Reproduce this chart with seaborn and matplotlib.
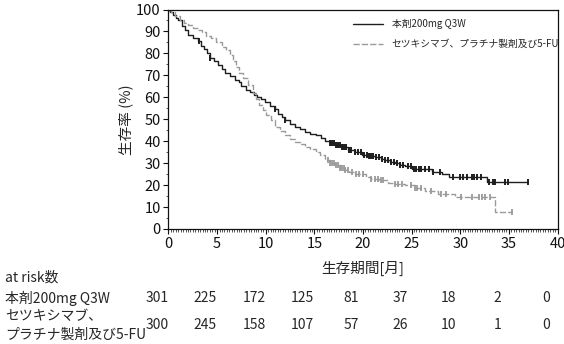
import numpy as np
import pandas as pd
import matplotlib
matplotlib.use("Agg")
import matplotlib.pyplot as plt
from matplotlib.ticker import MultipleLocator
from matplotlib.transforms import blended_transform_factory
import seaborn as sns

# ---------------- data ----------------
arm_a = "本剤200mg Q3W"
arm_b = "セツキシマブ、プラチナ製剤及び5-FU"

a_time = [0, 0.2, 0.5, 0.8, 1.0, 1.4, 1.7, 2.0, 2.5, 3.0, 3.3, 3.6, 4.0, 4.3, 4.7, 5.1, 5.5, 5.8,
          6.3, 6.8, 7.2, 7.5, 8.0, 8.4, 8.8, 9.1, 9.5, 9.9, 10.4, 10.9, 11.3, 11.7, 12.0, 12.5,
          13.0, 13.5, 14.0, 14.6, 15.2, 15.7, 16.1, 16.6, 17.1, 17.8, 18.5, 19.2, 19.9, 20.6,
          21.2, 21.8, 22.3, 22.8, 23.3, 23.8, 24.3, 25.0, 27.1, 28.1, 28.8, 32.7]
a_surv = [100, 99, 97.5, 96, 95, 92.5, 90.5, 88.5, 87, 85.5, 83.5, 82, 80, 78, 76.5, 74.7, 73, 71,
          69.5, 68, 67, 65, 63.5, 62.5, 61, 60, 59, 58, 56, 54.5, 52.5, 51, 49.7, 48,
          46.6, 45.5, 44.3, 43.5, 42.8, 41.5, 40, 39, 38.3, 37.3, 36, 35, 33.9, 33.3,
          32.9, 32, 31.4, 30.5, 29.9, 29.2, 28.7, 27.2, 26.1, 25.1, 23.8, 21.5]
a_end = 37.0
a_cens = [3.1, 4.3, 11.0, 12.0, 16.6, 16.8, 17.0, 17.2, 17.4, 17.6, 17.8, 18.0, 18.3, 18.6, 18.8,
          19.2, 19.5, 19.8, 20.1, 20.4, 20.6, 20.8, 21.0, 21.3, 21.6, 22.0, 22.3, 22.6, 22.9,
          23.2, 23.5, 23.8, 24.1, 24.6, 24.9, 25.2, 25.5, 25.8, 26.0, 26.4, 26.8, 27.2, 27.9,
          29.3, 30.0, 30.3, 30.7, 31.2, 31.4, 31.7, 32.1, 33.0, 33.4, 33.6, 34.6, 34.9, 37.0]

b_time = [0, 0.3, 0.7, 1.2, 1.6, 2.0, 2.5, 3.0, 3.4, 3.9, 4.4, 4.9, 5.5, 5.9, 6.3, 6.6, 6.9, 7.3,
          7.7, 8.2, 8.7, 9.0, 9.3, 9.7, 10.0, 10.5, 11.0, 11.5, 12.0, 12.5, 13.0, 13.5, 14.0,
          14.6, 15.2, 15.6, 16.1, 16.6, 17.1, 17.6, 18.1, 18.6, 19.2, 20.3, 20.8, 21.6, 22.6,
          23.3, 24.3, 25.3, 26.4, 27.7, 29.5, 33.6]
b_surv = [100, 99, 97, 95.2, 94, 93, 91.5, 90.5, 89.9, 88, 86.9, 85, 83.1, 81.5, 79.3, 76.5, 74, 71,
          69, 65.6, 62, 59, 56.5, 54, 52, 49.5, 46.6, 44.5, 42.8, 41.2, 39.8, 38.5, 37.5,
          36.3, 35.2, 33.5, 31.4, 30.2, 29.2, 28, 26.9, 25.9, 24.9, 23.8, 23, 22.3, 21.1,
          20.5, 20.0, 18.5, 17.3, 15.8, 14.7, 7.9]
b_end = 35.3
b_cens = [16.4, 16.6, 16.8, 17.0, 17.2, 17.4, 17.6, 17.8, 18.0, 18.2, 18.5, 18.9, 19.3, 19.6,
          20.0, 20.8, 21.2, 21.5, 21.8, 22.1, 23.3, 23.6, 24.0, 24.9, 25.3, 25.6, 26.0, 27.0,
          28.0, 28.5, 30.1, 31.2, 31.9, 32.2, 32.5, 33.1, 35.3]

risk_times = [0, 5, 10, 15, 20, 25, 30, 35, 40]
risk_a = [301, 225, 172, 125, 81, 37, 18, 2, 0]
risk_b = [300, 245, 158, 107, 57, 26, 10, 1, 0]

x_ticks = [0, 5, 10, 15, 20, 25, 30, 35, 40]
y_ticks = [0, 10, 20, 30, 40, 50, 60, 70, 80, 90, 100]

# ---------------- style ----------------
sns.set_style("ticks")
plt.rcParams['font.family'] = ['Noto Sans CJK JP', 'DejaVu Sans']
plt.rcParams['axes.unicode_minus'] = False

col_a = "#1e1e1e"
col_b = "#9a9a9a"
fs = 10.5
fs_tab = 10

fig = plt.figure(figsize=(5.64, 3.44), dpi=100)
W, H = 564, 344
ax = fig.add_axes([168.5 / W, 1 - 229 / H, 389 / W, 219.5 / H])


def curve_df(t, s, end):
    return pd.DataFrame({"t": list(t) + [end], "s": list(s) + [s[-1]]})


def cens_df(t, s, c):
    t = np.asarray(t); s = np.asarray(s); c = np.asarray(c)
    idx = np.searchsorted(t, c, side="right") - 1
    return pd.DataFrame({"t": c, "s": s[idx]})


da = curve_df(a_time, a_surv, a_end)
db = curve_df(b_time, b_surv, b_end)

sns.lineplot(data=da, x="t", y="s", ax=ax, color=col_a, lw=1.0, drawstyle="steps-post",
             estimator=None, sort=False, label=arm_a)
sns.lineplot(data=db, x="t", y="s", ax=ax, color=col_b, lw=1.0, drawstyle="steps-post",
             estimator=None, sort=False, label=arm_b, linestyle=(0, (4.5, 1.5)))

ca = cens_df(a_time, a_surv, a_cens)
cb = cens_df(b_time, b_surv, b_cens)
sns.scatterplot(data=ca, x="t", y="s", ax=ax, marker="|", s=18, color=col_a, linewidth=1.4,
                legend=False, zorder=3)
sns.scatterplot(data=cb, x="t", y="s", ax=ax, marker="|", s=18, color=col_b, linewidth=1.3,
                legend=False, zorder=3)

ax.set_xlim(0, 40)
ax.set_ylim(0, 100)
ax.set_xticks(x_ticks)
ax.set_yticks(y_ticks)
ax.xaxis.set_minor_locator(MultipleLocator(0.25))
ax.yaxis.set_minor_locator(MultipleLocator(5))
ax.tick_params(axis="both", which="major", direction="out", length=3.5, width=0.8,
               labelsize=fs, colors="#111111", pad=2)
ax.tick_params(axis="both", which="minor", direction="out", length=1.8, width=0.5,
               colors="#111111")
for sp in ax.spines.values():
    sp.set_visible(True)
    sp.set_linewidth(0.9)
    sp.set_color("#111111")

ax.set_xlabel("生存期間[月]", fontsize=fs, labelpad=7.5)
ax.set_ylabel("生存率 (%)", fontsize=fs, labelpad=2)

leg = ax.legend(loc="upper left", bbox_to_anchor=((353 - 168.5) / 389, (229 - 19) / 219.5),
                frameon=False, fontsize=7, handlelength=3.1, handletextpad=0.9,
                labelspacing=1.05, borderpad=0, borderaxespad=0)

# ---------------- risk table ----------------
tr = blended_transform_factory(ax.transData, fig.transFigure)
fig.text(5 / W, 1 - 278 / H, "at risk数", fontsize=fs_tab, va="center", ha="left")
fig.text(5 / W, 1 - 298 / H, arm_a, fontsize=fs_tab, va="center", ha="left")
fig.text(5 / W, 1 - 316 / H, "セツキシマブ、", fontsize=fs_tab, va="center", ha="left")
fig.text(5 / W, 1 - 335 / H, "プラチナ製剤及び5-FU", fontsize=fs_tab, va="center", ha="left")
for t, a, b in zip(risk_times, risk_a, risk_b):
    ax.text(t - 1.2, 1 - 298 / H, str(a), transform=tr, fontsize=fs_tab, va="center", ha="center")
    ax.text(t - 1.2, 1 - 325 / H, str(b), transform=tr, fontsize=fs_tab, va="center", ha="center")

fig.savefig("out.png", dpi=100)
